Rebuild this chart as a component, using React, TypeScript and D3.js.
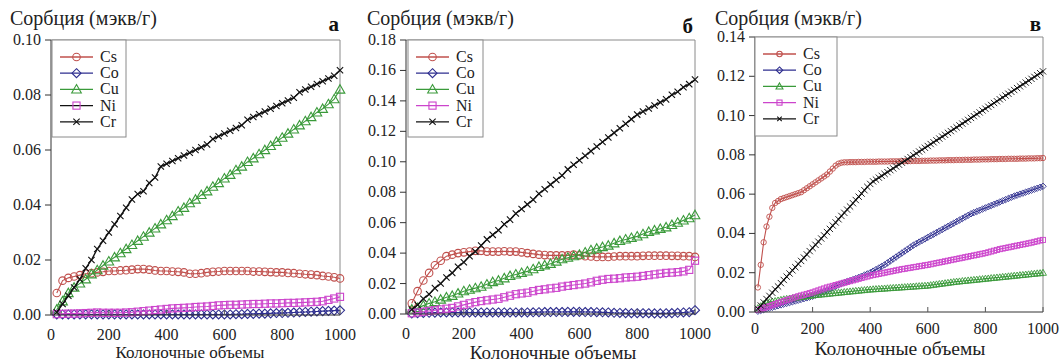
import React from "react";
import * as d3 from "d3";

// ---------- DATA ----------
const volumesAB = [20,40,60,80,100,120,140,160,180,200,220,240,260,280,300,320,340,360,380,400,420,440,460,480,500,520,540,560,580,600,620,640,660,680,700,720,740,760,780,800,820,840,860,880,900,920,940,960,980,1000];
const volumesC = [10,20,30,40,50,60,70,80,90,100,110,120,130,140,150,160,170,180,190,200,210,220,230,240,250,260,270,280,290,300,310,320,330,340,350,360,370,380,390,400,410,420,430,440,450,460,470,480,490,500,510,520,530,540,550,560,570,580,590,600,610,620,630,640,650,660,670,680,690,700,710,720,730,740,750,760,770,780,790,800,810,820,830,840,850,860,870,880,890,900,910,920,930,940,950,960,970,980,990,1000];

const seriesNames = ["Cs", "Co", "Cu", "Ni", "Cr"];
const yTicksA = [0, 0.02, 0.04, 0.06, 0.08, 0.1];
const yTicksB = [0, 0.02, 0.04, 0.06, 0.08, 0.1, 0.12, 0.14, 0.16, 0.18];
const yTicksC = [0, 0.02, 0.04, 0.06, 0.08, 0.1, 0.12, 0.14];
const xTicks = [0, 200, 400, 600, 800, 1000];

// Panel а
const csA = [0.008,0.0125,0.0135,0.014,0.0145,0.015,0.0152,0.0155,0.0157,0.016,0.016,0.0162,0.0163,0.0165,0.0167,0.0167,0.0165,0.0162,0.016,0.016,0.0158,0.0157,0.0155,0.015,0.015,0.0152,0.0155,0.0157,0.0158,0.016,0.016,0.016,0.016,0.016,0.0158,0.0158,0.0157,0.0156,0.0155,0.0155,0.0153,0.0152,0.015,0.0148,0.0147,0.0145,0.0142,0.014,0.0137,0.0133];
const coA = [0.0002,0.0002,0.0002,0.0002,0.0002,0.0002,0.0002,0.0002,0.0002,0.0002,0.0002,0.0002,0.0002,0.0002,0.0002,0.0002,0.0002,0.0002,0.0002,0.0002,0.0002,0.0002,0.0002,0.0002,0.0002,0.0002,0.0002,0.0002,0.0002,0.0002,0.0002,0.0003,0.0003,0.0004,0.0004,0.0005,0.0005,0.0006,0.0007,0.0007,0.0008,0.0009,0.001,0.0011,0.0012,0.0013,0.0014,0.0015,0.0016,0.0017];
const cuA = [0.002,0.005,0.008,0.01,0.0115,0.013,0.0148,0.0163,0.018,0.0195,0.021,0.0225,0.024,0.0255,0.027,0.0285,0.03,0.0315,0.033,0.0345,0.036,0.0377,0.039,0.0407,0.042,0.0437,0.045,0.0467,0.048,0.0497,0.051,0.0527,0.054,0.0557,0.057,0.0585,0.06,0.0615,0.063,0.0645,0.066,0.0675,0.069,0.0705,0.072,0.0737,0.075,0.0767,0.0785,0.082];
const niA = [0.0003,0.0004,0.0005,0.0005,0.0006,0.0007,0.0008,0.0009,0.0008,0.0008,0.0008,0.0008,0.0009,0.001,0.0012,0.0014,0.0016,0.0018,0.002,0.0022,0.0024,0.0025,0.0026,0.0027,0.0029,0.003,0.0031,0.0033,0.0035,0.0036,0.0037,0.0037,0.0038,0.0039,0.004,0.004,0.0041,0.0042,0.0042,0.0043,0.0044,0.0044,0.0045,0.0046,0.0047,0.0048,0.005,0.0055,0.006,0.0066];
const crA = [0.001,0.004,0.007,0.01,0.013,0.017,0.02,0.024,0.027,0.03,0.033,0.036,0.039,0.042,0.044,0.045,0.048,0.05,0.054,0.055,0.056,0.057,0.058,0.059,0.06,0.061,0.062,0.064,0.065,0.066,0.067,0.068,0.069,0.071,0.072,0.073,0.074,0.075,0.076,0.077,0.078,0.079,0.081,0.082,0.083,0.084,0.085,0.086,0.087,0.089];

// Panel б
const csB = [0.007,0.015,0.022,0.027,0.032,0.035,0.038,0.039,0.04,0.0405,0.041,0.0415,0.0415,0.041,0.041,0.041,0.0412,0.041,0.041,0.0405,0.04,0.0395,0.039,0.0387,0.0385,0.0385,0.0385,0.0385,0.039,0.0385,0.038,0.0378,0.0375,0.0375,0.0375,0.0378,0.038,0.038,0.038,0.038,0.0382,0.0383,0.0383,0.0383,0.0383,0.0382,0.0382,0.038,0.038,0.0375];
const coB = [0.0003,0.0005,0.0007,0.0008,0.0009,0.001,0.001,0.001,0.001,0.001,0.001,0.001,0.001,0.001,0.001,0.001,0.001,0.001,0.001,0.001,0.001,0.0011,0.0012,0.0013,0.0013,0.0013,0.0013,0.0014,0.0014,0.0014,0.0013,0.0013,0.0012,0.0011,0.001,0.0008,0.0007,0.0006,0.0005,0.0005,0.0005,0.0005,0.0004,0.0004,0.0005,0.0006,0.0008,0.001,0.0012,0.0025];
const cuB = [0.003,0.004,0.0055,0.007,0.008,0.0095,0.011,0.012,0.0135,0.015,0.016,0.017,0.018,0.0195,0.021,0.022,0.0235,0.025,0.026,0.027,0.028,0.0295,0.031,0.032,0.033,0.0345,0.036,0.037,0.038,0.039,0.0405,0.042,0.043,0.044,0.045,0.0465,0.048,0.049,0.05,0.051,0.0525,0.054,0.055,0.056,0.057,0.0585,0.06,0.0615,0.063,0.065];
const niB = [0.0005,0.001,0.0015,0.002,0.0025,0.003,0.0035,0.004,0.005,0.006,0.007,0.0078,0.0085,0.009,0.0095,0.01,0.011,0.012,0.013,0.0135,0.014,0.015,0.0158,0.0162,0.0168,0.0172,0.018,0.0185,0.019,0.0195,0.02,0.0208,0.0218,0.0225,0.023,0.0232,0.0235,0.024,0.0242,0.0245,0.025,0.0255,0.026,0.0265,0.027,0.0272,0.0275,0.028,0.029,0.035];
const crB = [0.003,0.006,0.01,0.013,0.017,0.02,0.024,0.027,0.031,0.034,0.038,0.041,0.045,0.049,0.052,0.055,0.059,0.062,0.066,0.069,0.072,0.075,0.079,0.082,0.085,0.088,0.091,0.095,0.098,0.101,0.104,0.107,0.11,0.113,0.116,0.119,0.122,0.125,0.128,0.131,0.133,0.135,0.137,0.139,0.141,0.144,0.146,0.149,0.151,0.154];

// Panel в
const csC = [0.0125,0.024,0.0355,0.0435,0.0485,0.053,0.0555,0.0565,0.0575,0.058,0.0585,0.059,0.0595,0.06,0.0605,0.061,0.062,0.063,0.064,0.065,0.066,0.067,0.068,0.069,0.07,0.0715,0.073,0.0745,0.0755,0.076,0.0762,0.0762,0.0763,0.0763,0.0763,0.0764,0.0764,0.0764,0.0765,0.0765,0.0765,0.0765,0.0766,0.0766,0.0766,0.0766,0.0767,0.0767,0.0767,0.0767,0.0768,0.0768,0.0768,0.0768,0.0769,0.0769,0.0769,0.077,0.077,0.077,0.0771,0.0771,0.0771,0.0772,0.0772,0.0772,0.0773,0.0773,0.0773,0.0774,0.0774,0.0774,0.0775,0.0775,0.0775,0.0776,0.0776,0.0776,0.0777,0.0777,0.0777,0.0778,0.0778,0.0778,0.0779,0.0779,0.0779,0.078,0.078,0.078,0.078,0.0781,0.0781,0.0781,0.0782,0.0782,0.0782,0.0783,0.0783,0.0784];
const coC = [0.0004,0.0008,0.0012,0.0016,0.002,0.0024,0.0028,0.0032,0.0036,0.004,0.0044,0.0048,0.0052,0.0056,0.006,0.0064,0.0068,0.0072,0.0076,0.008,0.0086,0.0092,0.0098,0.0104,0.011,0.0117,0.0124,0.0131,0.0138,0.0145,0.015,0.0155,0.016,0.0165,0.017,0.0176,0.0182,0.0188,0.0194,0.02,0.0208,0.0216,0.0224,0.0232,0.024,0.025,0.026,0.027,0.028,0.029,0.03,0.031,0.032,0.033,0.034,0.0348,0.0356,0.0364,0.0372,0.038,0.0388,0.0396,0.0404,0.0412,0.042,0.0428,0.0436,0.0444,0.0452,0.046,0.0468,0.0476,0.0484,0.0492,0.05,0.0506,0.0512,0.0518,0.0524,0.053,0.0536,0.0542,0.0548,0.0554,0.056,0.0566,0.0572,0.0578,0.0584,0.059,0.0595,0.06,0.0605,0.061,0.0615,0.062,0.0625,0.063,0.0635,0.064];
const cuC = [0.002,0.003,0.004,0.0045,0.005,0.0053,0.0056,0.0059,0.0062,0.0065,0.0067,0.0069,0.0071,0.0073,0.0075,0.0077,0.0079,0.0081,0.0083,0.0085,0.0087,0.0088,0.009,0.0091,0.0093,0.0094,0.0096,0.0097,0.0099,0.01,0.0102,0.0103,0.0105,0.0106,0.0108,0.0109,0.0111,0.0112,0.0114,0.0115,0.0116,0.0117,0.0118,0.0119,0.012,0.0121,0.0122,0.0123,0.0124,0.0125,0.0126,0.0127,0.0128,0.0129,0.013,0.0131,0.0132,0.0133,0.0134,0.0135,0.0137,0.0139,0.0141,0.0143,0.0145,0.0147,0.0149,0.0151,0.0153,0.0155,0.0156,0.0158,0.0159,0.0161,0.0162,0.0164,0.0165,0.0167,0.0168,0.017,0.0171,0.0173,0.0174,0.0176,0.0177,0.0179,0.018,0.0182,0.0183,0.0185,0.0186,0.0188,0.0189,0.0191,0.0192,0.0194,0.0195,0.0197,0.0198,0.02];
const niC = [0.001,0.0015,0.002,0.0025,0.003,0.0035,0.004,0.0045,0.005,0.0055,0.006,0.0065,0.007,0.0075,0.008,0.0084,0.0088,0.0092,0.0096,0.01,0.0105,0.011,0.0115,0.012,0.0125,0.0129,0.0133,0.0137,0.0141,0.0145,0.0149,0.0153,0.0157,0.0161,0.0165,0.0169,0.0173,0.0177,0.0181,0.0185,0.0188,0.0191,0.0194,0.0197,0.02,0.0203,0.0206,0.0209,0.0212,0.0215,0.0218,0.022,0.0223,0.0225,0.0228,0.023,0.0233,0.0235,0.0238,0.024,0.0243,0.0246,0.0249,0.0252,0.0255,0.0258,0.0261,0.0264,0.0267,0.027,0.0273,0.0276,0.0279,0.0282,0.0285,0.0288,0.0291,0.0294,0.0297,0.03,0.0304,0.0308,0.0312,0.0316,0.032,0.0323,0.0326,0.0329,0.0332,0.0335,0.0338,0.0341,0.0344,0.0347,0.035,0.0353,0.0357,0.036,0.0364,0.0367];
const crC = [0.0016,0.0033,0.0049,0.0066,0.0082,0.0098,0.0115,0.013,0.0147,0.0163,0.018,0.0196,0.0212,0.0228,0.0245,0.026,0.0277,0.0293,0.031,0.0326,0.0342,0.0358,0.0374,0.039,0.0407,0.0423,0.044,0.0456,0.0472,0.0489,0.0505,0.0521,0.0537,0.0554,0.057,0.0587,0.0603,0.062,0.0637,0.0652,0.0665,0.0674,0.0684,0.0693,0.0703,0.0712,0.0722,0.0731,0.0741,0.075,0.076,0.0769,0.0779,0.0788,0.0798,0.0807,0.0817,0.0826,0.0836,0.0845,0.0855,0.0864,0.0874,0.0883,0.0893,0.0902,0.0912,0.0921,0.0931,0.094,0.095,0.0959,0.0969,0.0978,0.0988,0.0997,0.1007,0.1016,0.1026,0.1035,0.1045,0.1054,0.1064,0.1073,0.1083,0.1092,0.1102,0.1111,0.1121,0.113,0.114,0.1149,0.1159,0.1168,0.1178,0.1187,0.1197,0.1206,0.1216,0.1225];

// ---------- STYLE ----------
const FONT = "'Liberation Serif', 'Times New Roman', 'DejaVu Serif', serif";
const colors: Record<string, string> = { Cs: "#c0504d", Co: "#2e2e8f", Cu: "#3a9a3a", Ni: "#cc44cc", Cr: "#111111" };
const lineColorsA: Record<string, string> = { Cs: "#c0504d", Co: "#2e2e8f", Cu: "#3a9a3a", Ni: "#111111", Cr: "#111111" };

type Panel = {
  left: number; right: number; top: number; bottom: number; yMax: number;
  yTicks: number[]; letter: string; letterX: number; letterY: number;
  yTitleX: number; xTitleX: number; xTickDy: number; xTitleY: number; xTitleSize: number;
  legend: { x: number; y: number; w: number; h: number };
  k: number; crK: number; sw: number; xs: number[]; data: number[][]; legendLines: Record<string, string>;
};

const panels: Panel[] = [
  { left: 51, right: 340, top: 40, bottom: 315, yMax: 0.1, yTicks: yTicksA, letter: "а", letterX: 339, letterY: 31,
    yTitleX: 10, xTitleX: 190, xTickDy: 25, xTitleY: 358, xTitleSize: 17, legend: { x: 52, y: 40, w: 74, h: 97 }, k: 1.05, crK: 1.05, sw: 1.1,
    xs: volumesAB, data: [csA, coA, cuA, niA, crA], legendLines: lineColorsA },
  { left: 406, right: 695, top: 40, bottom: 314, yMax: 0.18, yTicks: yTicksB, letter: "б", letterX: 693, letterY: 33,
    yTitleX: 367, xTitleX: 553, xTickDy: 25, xTitleY: 359, xTitleSize: 19, legend: { x: 408, y: 40, w: 75, h: 97 }, k: 1.05, crK: 1.05, sw: 1.1,
    xs: volumesAB, data: [csB, coB, cuB, niB, crB], legendLines: colors },
  { left: 755, right: 1043, top: 37, bottom: 312, yMax: 0.14, yTicks: yTicksC, letter: "в", letterX: 1041, letterY: 31,
    yTitleX: 715, xTitleX: 900, xTickDy: 22, xTitleY: 355, xTitleSize: 19.5, legend: { x: 755, y: 37, w: 82, h: 99 }, k: 0.75, crK: 1.05, sw: 0.9,
    xs: volumesC, data: [csC, coC, cuC, niC, crC], legendLines: colors },
];

function Marker({ name, x, y, k, sw }: { name: string; x: number; y: number; k: number; sw: number }) {
  const c = colors[name];
  if (name === "Cs") return <circle cx={x} cy={y} r={3.6 * k} fill="none" stroke={c} strokeWidth={sw} />;
  if (name === "Co") {
    const s = 4.3 * k;
    return <path d={`M${x},${y - s}L${x + s},${y}L${x},${y + s}L${x - s},${y}Z`} fill="none" stroke={c} strokeWidth={sw} />;
  }
  if (name === "Cu") {
    const s = 4.6 * k;
    return <path d={`M${x},${y - s}L${x + s},${y + s * 0.75}L${x - s},${y + s * 0.75}Z`} fill="none" stroke={c} strokeWidth={sw} />;
  }
  if (name === "Ni") {
    const s = 3.4 * k;
    return <rect x={x - s} y={y - s} width={2 * s} height={2 * s} fill="none" stroke={c} strokeWidth={sw} />;
  }
  const s = 3 * k;
  return <path d={`M${x - s},${y - s}L${x + s},${y + s}M${x - s},${y + s}L${x + s},${y - s}`} stroke={c} strokeWidth={sw} />;
}

function PanelView({ p }: { p: Panel }) {
  const x = d3.scaleLinear().domain([0, 1000]).range([p.left, p.right]);
  const y = d3.scaleLinear().domain([0, p.yMax]).range([p.bottom, p.top]);
  const fmt = d3.format(".2f");
  const txt = { fontFamily: FONT } as React.CSSProperties;
  return (
    <g>
      <line x1={p.left} x2={p.right} y1={p.top} y2={p.top} stroke="#8a8a8a" strokeWidth={1} />
      <line x1={p.right} x2={p.right} y1={p.top} y2={p.bottom} stroke="#8a8a8a" strokeWidth={1} />
      {seriesNames.map((name, si) => {
        const vals = p.data[si];
        const line = d3.line<number>().x((_, i) => x(p.xs[i])).y((v) => y(v));
        return (
          <g key={name}>
            <path d={line(vals) || ""} fill="none" stroke={name === "Cr" ? "#111" : colors[name]} strokeWidth={name === "Cr" ? 1.4 : 1.1} />
            {vals.map((v, i) => (
              <Marker key={i} name={name} x={x(p.xs[i])} y={y(v)} k={name === "Cr" ? p.crK : p.k} sw={p.sw} />
            ))}
          </g>
        );
      })}
      <line x1={p.left} x2={p.left} y1={p.top} y2={p.bottom} stroke="#333" strokeWidth={1} />
      <line x1={p.left} x2={p.right} y1={p.bottom} y2={p.bottom} stroke="#333" strokeWidth={1} />
      {p.yTicks.map((t) => (
        <g key={t}>
          <line x1={p.left - 6} x2={p.left} y1={y(t)} y2={y(t)} stroke="#333" strokeWidth={1} />
          <text x={p.left - 10} y={y(t) + 5} textAnchor="end" style={txt} fontSize={16} fill="#222">{fmt(t)}</text>
        </g>
      ))}
      {xTicks.map((t) => (
        <g key={t}>
          <line x1={x(t)} x2={x(t)} y1={p.bottom} y2={p.bottom - 5} stroke="#555" strokeWidth={1} />
          <text x={x(t)} y={p.bottom + p.xTickDy} textAnchor="middle" style={txt} fontSize={16} fill="#222">{t}</text>
        </g>
      ))}
      <text x={p.yTitleX} y={25} style={txt} fontSize={20} fill="#222">Сорбция (мэкв/г)</text>
      <text x={p.xTitleX} y={p.xTitleY} textAnchor="middle" style={txt} fontSize={p.xTitleSize} fill="#222">Колоночные объемы</text>
      <text x={p.letterX} y={p.letterY} textAnchor="end" style={txt} fontSize={21} fontWeight="bold" fill="#111">{p.letter}</text>
      <rect x={p.legend.x} y={p.legend.y} width={p.legend.w} height={p.legend.h} fill="#fff" stroke="#8a8a8a" strokeWidth={1} />
      {seriesNames.map((name, i) => {
        const ly = p.legend.y + 17 + i * 16.2;
        const lx0 = p.legend.x + 8;
        const lx1 = p.legend.x + 41;
        return (
          <g key={name}>
            <line x1={lx0} x2={lx1} y1={ly} y2={ly} stroke={p.legendLines[name]} strokeWidth={1.3} />
            <Marker name={name} x={(lx0 + lx1) / 2} y={ly} k={p.k} sw={1.1} />
            <text x={lx1 + 7} y={ly + 5} style={txt} fontSize={16} fill="#222">{name}</text>
          </g>
        );
      })}
    </g>
  );
}

export default function App() {
  return (
    <svg width={1063} height={362} style={{ position: "absolute", left: 0, top: 0, background: "#fff" }}>
      <rect x={0} y={0} width={1063} height={362} fill="#fff" />
      {panels.map((p, i) => <PanelView key={i} p={p} />)}
    </svg>
  );
}
